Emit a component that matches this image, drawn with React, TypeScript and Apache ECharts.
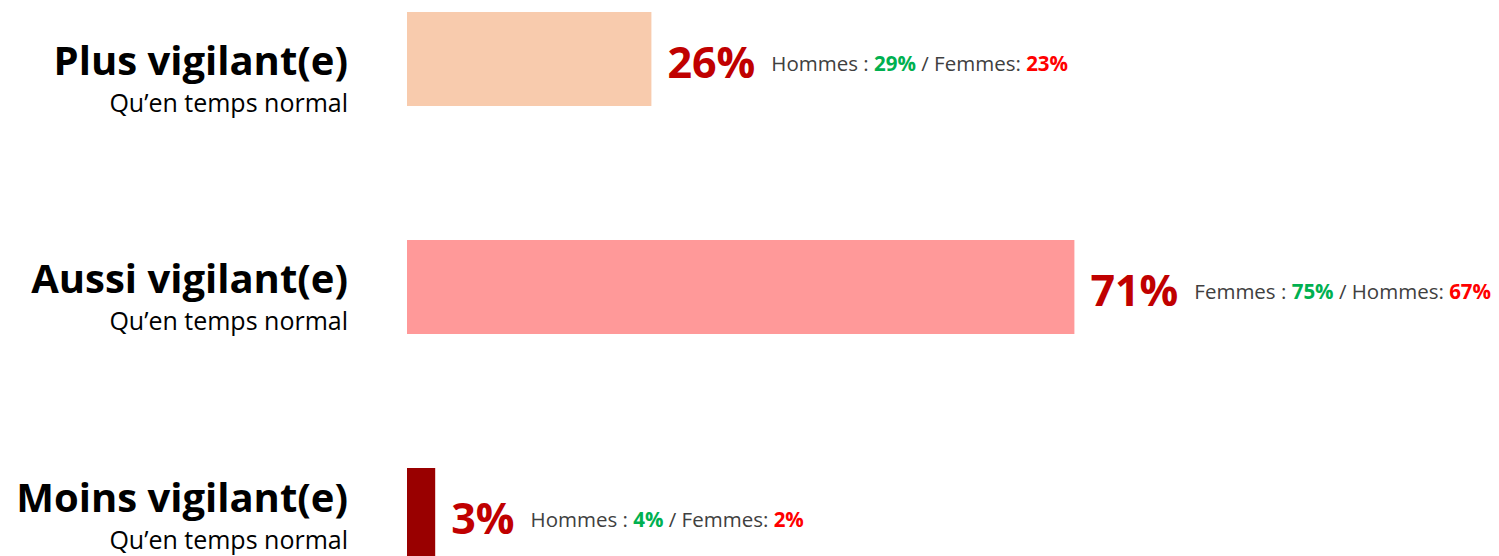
import React, { useEffect, useRef } from "react";
import * as echarts from "echarts";

const categories = ["Plus vigilant(e)", "Aussi vigilant(e)", "Moins vigilant(e)"];
const subtitle = "Qu’en temps normal";
const values = [26, 71, 3];
const barColors = ["#F8CBAD", "#FF9999", "#990000"];
const firstGroup = ["Hommes", "Femmes", "Hommes"];
const firstValues = [29, 75, 4];
const secondGroup = ["Femmes", "Hommes", "Femmes"];
const secondValues = [23, 67, 2];

const FONT = "Open Sans";
const labelShift = [40, 20, 2];

export default function App() {
  const ref = useRef<HTMLDivElement>(null);
  useEffect(() => {
    const chart = echarts.init(ref.current!, null, { renderer: "svg" });
    const richLeft: any = {
      a: { fontFamily: FONT, fontWeight: "bold", fontSize: 40, lineHeight: 46, color: "#000", align: "right" },
      b: { fontFamily: FONT, fontSize: 25, lineHeight: 40, color: "#000", align: "right" },
    };
    labelShift.forEach((s, i) => {
      richLeft["p" + i] = { fontSize: 1, lineHeight: s, height: s, align: "right" };
    });
    chart.setOption({
      animation: false,
      grid: { left: 407, width: 940, top: -55, height: 684, outerBoundsMode: "none", containLabel: false },
      xAxis: {
        type: "value",
        min: 0,
        max: 100,
        show: false,
      },
      yAxis: {
        type: "category",
        inverse: true,
        data: categories,
        axisLine: { show: false },
        axisTick: { show: false },
        splitLine: { show: false },
        axisLabel: {
          margin: 59,
          align: "right",
          formatter: (v: string, i: number) => `{p${i}| }\n{a|${v}}\n{b|${subtitle}}`,
          rich: richLeft,
        },
      },
      series: [
        {
          type: "bar",
          barWidth: 94,
          data: values.map((v, i) => ({ value: v, itemStyle: { color: barColors[i] } })),
          label: {
            show: true,
            position: "right",
            distance: 16,
            offset: [0, 2],
            formatter: (p: any) => {
              const i = p.dataIndex;
              return `{big|${values[i]}%}{gap|}{g|${firstGroup[i]} : }{gr|${firstValues[i]}%}{g| / ${secondGroup[i]}: }{rd|${secondValues[i]}%}`;
            },
            rich: {
              big: { fontFamily: FONT, fontWeight: "bold", fontSize: 43, color: "#C00000", lineHeight: 54 },
              gap: { width: 16 },
              g: { fontFamily: FONT, fontSize: 20.5, color: "#404040", lineHeight: 54, padding: [4, 0, 0, 0] },
              gr: { fontFamily: FONT, fontWeight: "bold", fontSize: 20.5, color: "#00B050", lineHeight: 54, padding: [4, 0, 0, 0] },
              rd: { fontFamily: FONT, fontWeight: "bold", fontSize: 20.5, color: "#FF0000", lineHeight: 54, padding: [4, 0, 0, 0] },
            },
          },
        },
      ],
    });
    return () => chart.dispose();
  }, []);
  return (
    <div
      ref={ref}
      style={{ position: "absolute", left: 0, top: 0, width: 1499, height: 556 }}
    />
  );
}
